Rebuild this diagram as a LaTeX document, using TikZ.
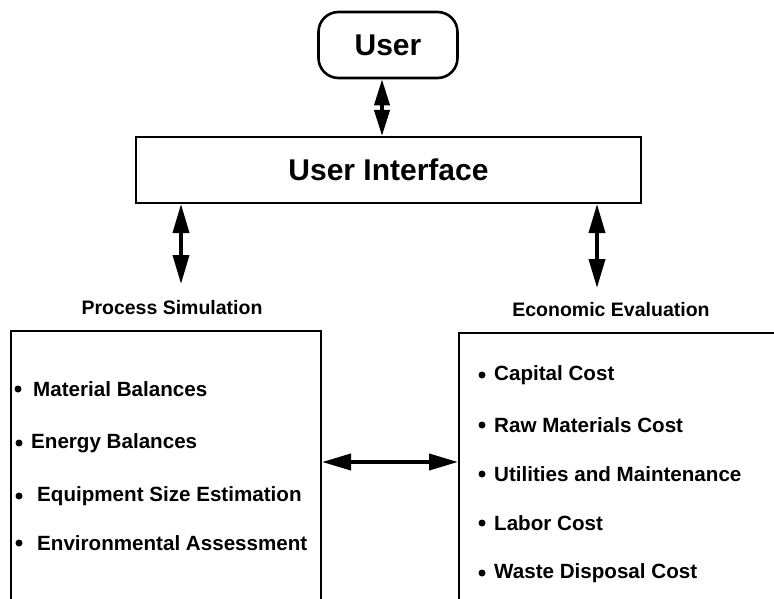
\documentclass[tikz,border=0pt]{standalone}
\usepackage{fontspec}
\setmainfont{Liberation Sans}
\usetikzlibrary{arrows.meta}
\begin{document}
\begin{tikzpicture}[x=1pt,y=-1pt,
  dbl/.style={line width=3.8pt,{Triangle[length=29pt,width=16pt]}-{Triangle[length=29pt,width=16pt]}},
  dblshort/.style={line width=3.8pt,{Triangle[length=26pt,width=15pt]}-{Triangle[length=26pt,width=15pt]}},
  big/.style={font=\fontsize{30}{32}\selectfont\bfseries},
  head/.style={font=\fontsize{19.5}{22}\selectfont\bfseries,inner sep=0pt},
  item/.style={anchor=west,font=\fontsize{20.6}{22}\selectfont\bfseries,inner sep=0pt},
  bul/.style={circle,fill=black,draw=none,inner sep=0pt,minimum size=7pt},
  panel/.style={draw,line width=2pt,anchor=north west,minimum height=300pt}]
\useasboundingbox (0,0) rectangle (774,599);
\clip (0,0) rectangle (774,599);

% top boxes
\node[draw,line width=2.6pt,rounded corners=20pt,minimum width=139pt,minimum height=66pt,big] (user) at (388,45) {User};
\node[draw,line width=2pt,minimum width=505pt,minimum height=66pt,big] (ui) at (388.5,170) {User Interface};

% headings
\node[head] (pshead) at (172,308) {Process Simulation};
\node[head] (eehead) at (611,310) {Economic Evaluation};

% panels (bottom edges run off the page)
\node[panel,minimum width=310pt] (ps) at (10,330) {};
\node[panel,minimum width=400pt] (ee) at (458,332) {};

% connector end points
\coordinate (ux) at (382,0);
\coordinate (lend) at (181,284);
\coordinate (rend) at (597,288);
\coordinate (hm) at (0,462);

\draw[dblshort] (user.south -| ux) -- (ui.north -| ux);
\draw[dbl] (ui.south -| lend) -- (lend);
\draw[dbl] (ui.south -| rend) -- (rend);
\draw[dbl] (ps.east |- hm) -- (ee.west |- hm);

% process simulation items
\node[bul] (b1) at (18,389) {};
\node[item] (t1) at (33,389) {Material Balances};
\node[bul] (b2) at (19,443) {};
\node[item] (t2) at (31,443) {Energy Balances};
\node[bul] (b3) at (19,496) {};
\node[item] (t3) at (37,496) {Equipment Size Estimation};
\node[bul] (b4) at (19,543) {};
\node[item] (t4) at (37,543) {Environmental Assessment};

% economic evaluation items
\node[bul] (c1) at (482,375) {};
\node[item] (u1) at (494,375) {Capital Cost};
\node[bul] (c2) at (482,425) {};
\node[item] (u2) at (494,425) {Raw Materials Cost};
\node[bul] (c3) at (482,474) {};
\node[item] (u3) at (494,474) {Utilities and Maintenance};
\node[bul] (c4) at (482,523) {};
\node[item] (u4) at (494,523) {Labor Cost};
\node[bul] (c5) at (482,573) {};
\node[item] (u5) at (494,573) {Waste Disposal Cost};
\end{tikzpicture}
\end{document}
